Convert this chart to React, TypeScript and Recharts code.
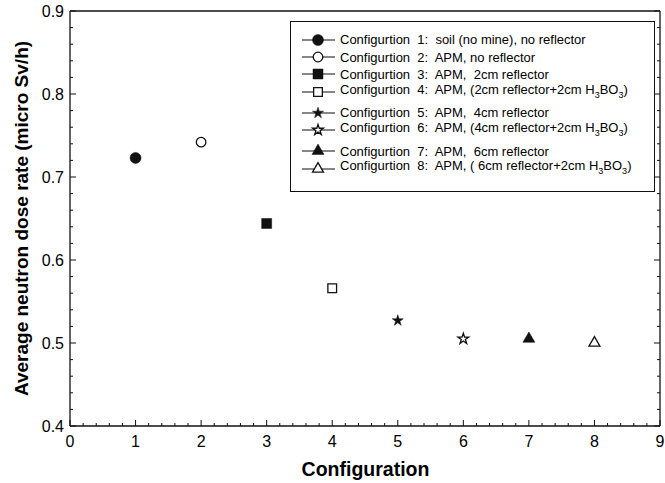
import React from "react";
import { ScatterChart, Scatter, XAxis, YAxis, Legend, Symbols } from "recharts";

// one point per configuration
const configs = [1, 2, 3, 4, 5, 6, 7, 8];
const doseRates = [0.723, 0.742, 0.644, 0.566, 0.527, 0.505, 0.505, 0.5];
const labels = [
  "Configurtion  1:  soil (no mine), no reflector",
  "Configurtion  2:  APM, no reflector",
  "Configurtion  3:  APM,  2cm reflector",
  "Configurtion  4:  APM, (2cm reflector+2cm H3BO3)",
  "Configurtion  5:  APM,  4cm reflector",
  "Configurtion  6:  APM, (4cm reflector+2cm H3BO3)",
  "Configurtion  7:  APM,  6cm reflector",
  "Configurtion  8:  APM, ( 6cm reflector+2cm H3BO3)",
];
const shapes = ["circle", "circle", "square", "square", "star", "star", "triangle", "triangle"] as const;
const filled = [true, false, true, false, true, false, true, false];
const markerSizes = [95, 72, 100, 76, 38, 36, 62, 52];

// axis ticks: every minor step, majors get a label
const xTicks = Array.from({ length: 46 }, (_, i) => +(i * 0.2).toFixed(1));
const yTicks = Array.from({ length: 26 }, (_, i) => +(0.4 + i * 0.02).toFixed(2));
const isMajorX = (v: number) => Math.abs(v - Math.round(v)) < 1e-6;
const isMajorY = (v: number) => Math.abs(v * 10 - Math.round(v * 10)) < 1e-6;

const FONT = "Arial, 'Liberation Sans', sans-serif";
const INK = "#111";

const Marker = ({ cx, cy, i }: { cx: number; cy: number; i: number }) => (
  <Symbols
    cx={cx}
    cy={cy}
    type={shapes[i]}
    size={markerSizes[i]}
    fill={filled[i] ? INK : "#fff"}
    stroke={INK}
    strokeWidth={filled[i] ? 0.5 : 1.3}
  />
);

const tickText = { fontFamily: FONT, fontSize: 16, fill: "#000" };

const BottomTick = ({ x, y, payload }: any) => {
  const major = isMajorX(payload.value);
  return (
    <g>
      <line x1={x} x2={x} y1={y} y2={y - (major ? 6 : 3)} stroke={INK} />
      {major && (
        <text x={x} y={y + 21} textAnchor="middle" style={tickText}>
          {Math.round(payload.value)}
        </text>
      )}
    </g>
  );
};
const LeftTick = ({ x, y, payload }: any) => {
  const major = isMajorY(payload.value);
  return (
    <g>
      <line x1={x} x2={x + (major ? 6 : 3)} y1={y} y2={y} stroke={INK} />
      {major && (
        <text x={x - 6} y={y + 6} textAnchor="end" style={tickText}>
          {Number(payload.value).toFixed(1)}
        </text>
      )}
    </g>
  );
};
const TopTick = ({ x, y, payload }: any) => (
  <line x1={x} x2={x} y1={y} y2={y + (isMajorX(payload.value) ? 6 : 3)} stroke={INK} />
);
const RightTick = ({ x, y, payload }: any) => (
  <line x1={x} x2={x - (isMajorY(payload.value) ? 6 : 3)} y1={y} y2={y} stroke={INK} />
);

function withSub(text: string) {
  const parts = text.split("H3BO3");
  if (parts.length === 1) return text;
  return (
    <>
      {parts[0]}H<sub style={{ fontSize: 9 }}>3</sub>BO<sub style={{ fontSize: 9 }}>3</sub>
      {parts[1]}
    </>
  );
}

const renderLegend = (props: any) => {
  const payload = props.payload ?? [];
  return (
    <div
      style={{
        boxSizing: "border-box",
        width: 365,
        height: 171,
        border: `1.5px solid ${INK}`,
        paddingTop: 9,
        fontFamily: FONT,
        fontSize: 13,
        color: "#000",
        background: "#fff",
      }}
    >
      {payload.map((entry: any) => {
        const i = labels.indexOf(entry.value);
        const hasSub = labels[i].includes("H3BO3");
        return (
          <div
            key={i}
            style={{ height: 17.4, marginBottom: hasSub ? 3.6 : 0, display: "flex", alignItems: "center", overflow: "visible" }}
          >
            <svg width={36} height={16} style={{ marginLeft: 10, flex: "none" }}>
              <line x1={1} x2={34} y1={8} y2={8} stroke={INK} strokeWidth={1.2} />
              <Marker cx={17} cy={8} i={i} />
            </svg>
            <span style={{ marginLeft: 3, whiteSpace: "pre", lineHeight: "17px" }}>{withSub(labels[i])}</span>
          </div>
        );
      })}
    </div>
  );
};

export default function App() {
  const axisLine = { stroke: INK, strokeWidth: 1.3 };
  return (
    <div style={{ position: "absolute", left: 0, top: 0, width: 665, height: 483, background: "#fff" }}>
      <ScatterChart width={665} height={483} margin={{ top: 10, right: 4, bottom: 56, left: 69 }}>
        <XAxis type="number" dataKey="x" domain={[0, 9]} ticks={xTicks} height={1} tickSize={0} tickMargin={0}
          tickLine={false} axisLine={axisLine} tick={BottomTick} interval={0} allowDataOverflow />
        <XAxis xAxisId="top" orientation="top" type="number" domain={[0, 9]} ticks={xTicks} height={1} tickSize={0}
          tickMargin={0} tickLine={false} axisLine={axisLine} tick={TopTick} interval={0} allowDataOverflow />
        <YAxis type="number" dataKey="y" domain={[0.4, 0.9]} ticks={yTicks} width={1} tickSize={0} tickMargin={0}
          tickLine={false} axisLine={axisLine} tick={LeftTick} interval={0} allowDataOverflow />
        <YAxis yAxisId="right" orientation="right" type="number" domain={[0.4, 0.9]} ticks={yTicks} width={1}
          tickSize={0} tickMargin={0} tickLine={false} axisLine={axisLine} tick={RightTick} interval={0}
          allowDataOverflow />
        {configs.map((c, i) => (
          <Scatter
            key={c}
            name={labels[i]}
            data={[{ x: c, y: doseRates[i] }]}
            isAnimationActive={false}
            shape={(p: any) => <Marker cx={p.cx} cy={p.cy} i={i} />}
          />
        ))}
        <Legend
          layout="horizontal"
          verticalAlign="middle"
          align="center"
          content={renderLegend}
          wrapperStyle={{ left: 290, top: 21, width: 365, height: 171 }}
        />
      </ScatterChart>
      <svg width={665} height={483} style={{ position: "absolute", left: 0, top: 0, pointerEvents: "none" }}>
        <text x={365.5} y={475.5} textAnchor="middle" fontFamily={FONT} fontWeight="bold" fontSize={19.5} fill="#000">
          Configuration
        </text>
        <text x={28} y={218.5} transform="rotate(-90 28 218.5)" textAnchor="middle" fontFamily={FONT}
          fontWeight="bold" fontSize={19} fill="#000">
          Average neutron dose rate (micro Sv/h)
        </text>
      </svg>
    </div>
  );
}
